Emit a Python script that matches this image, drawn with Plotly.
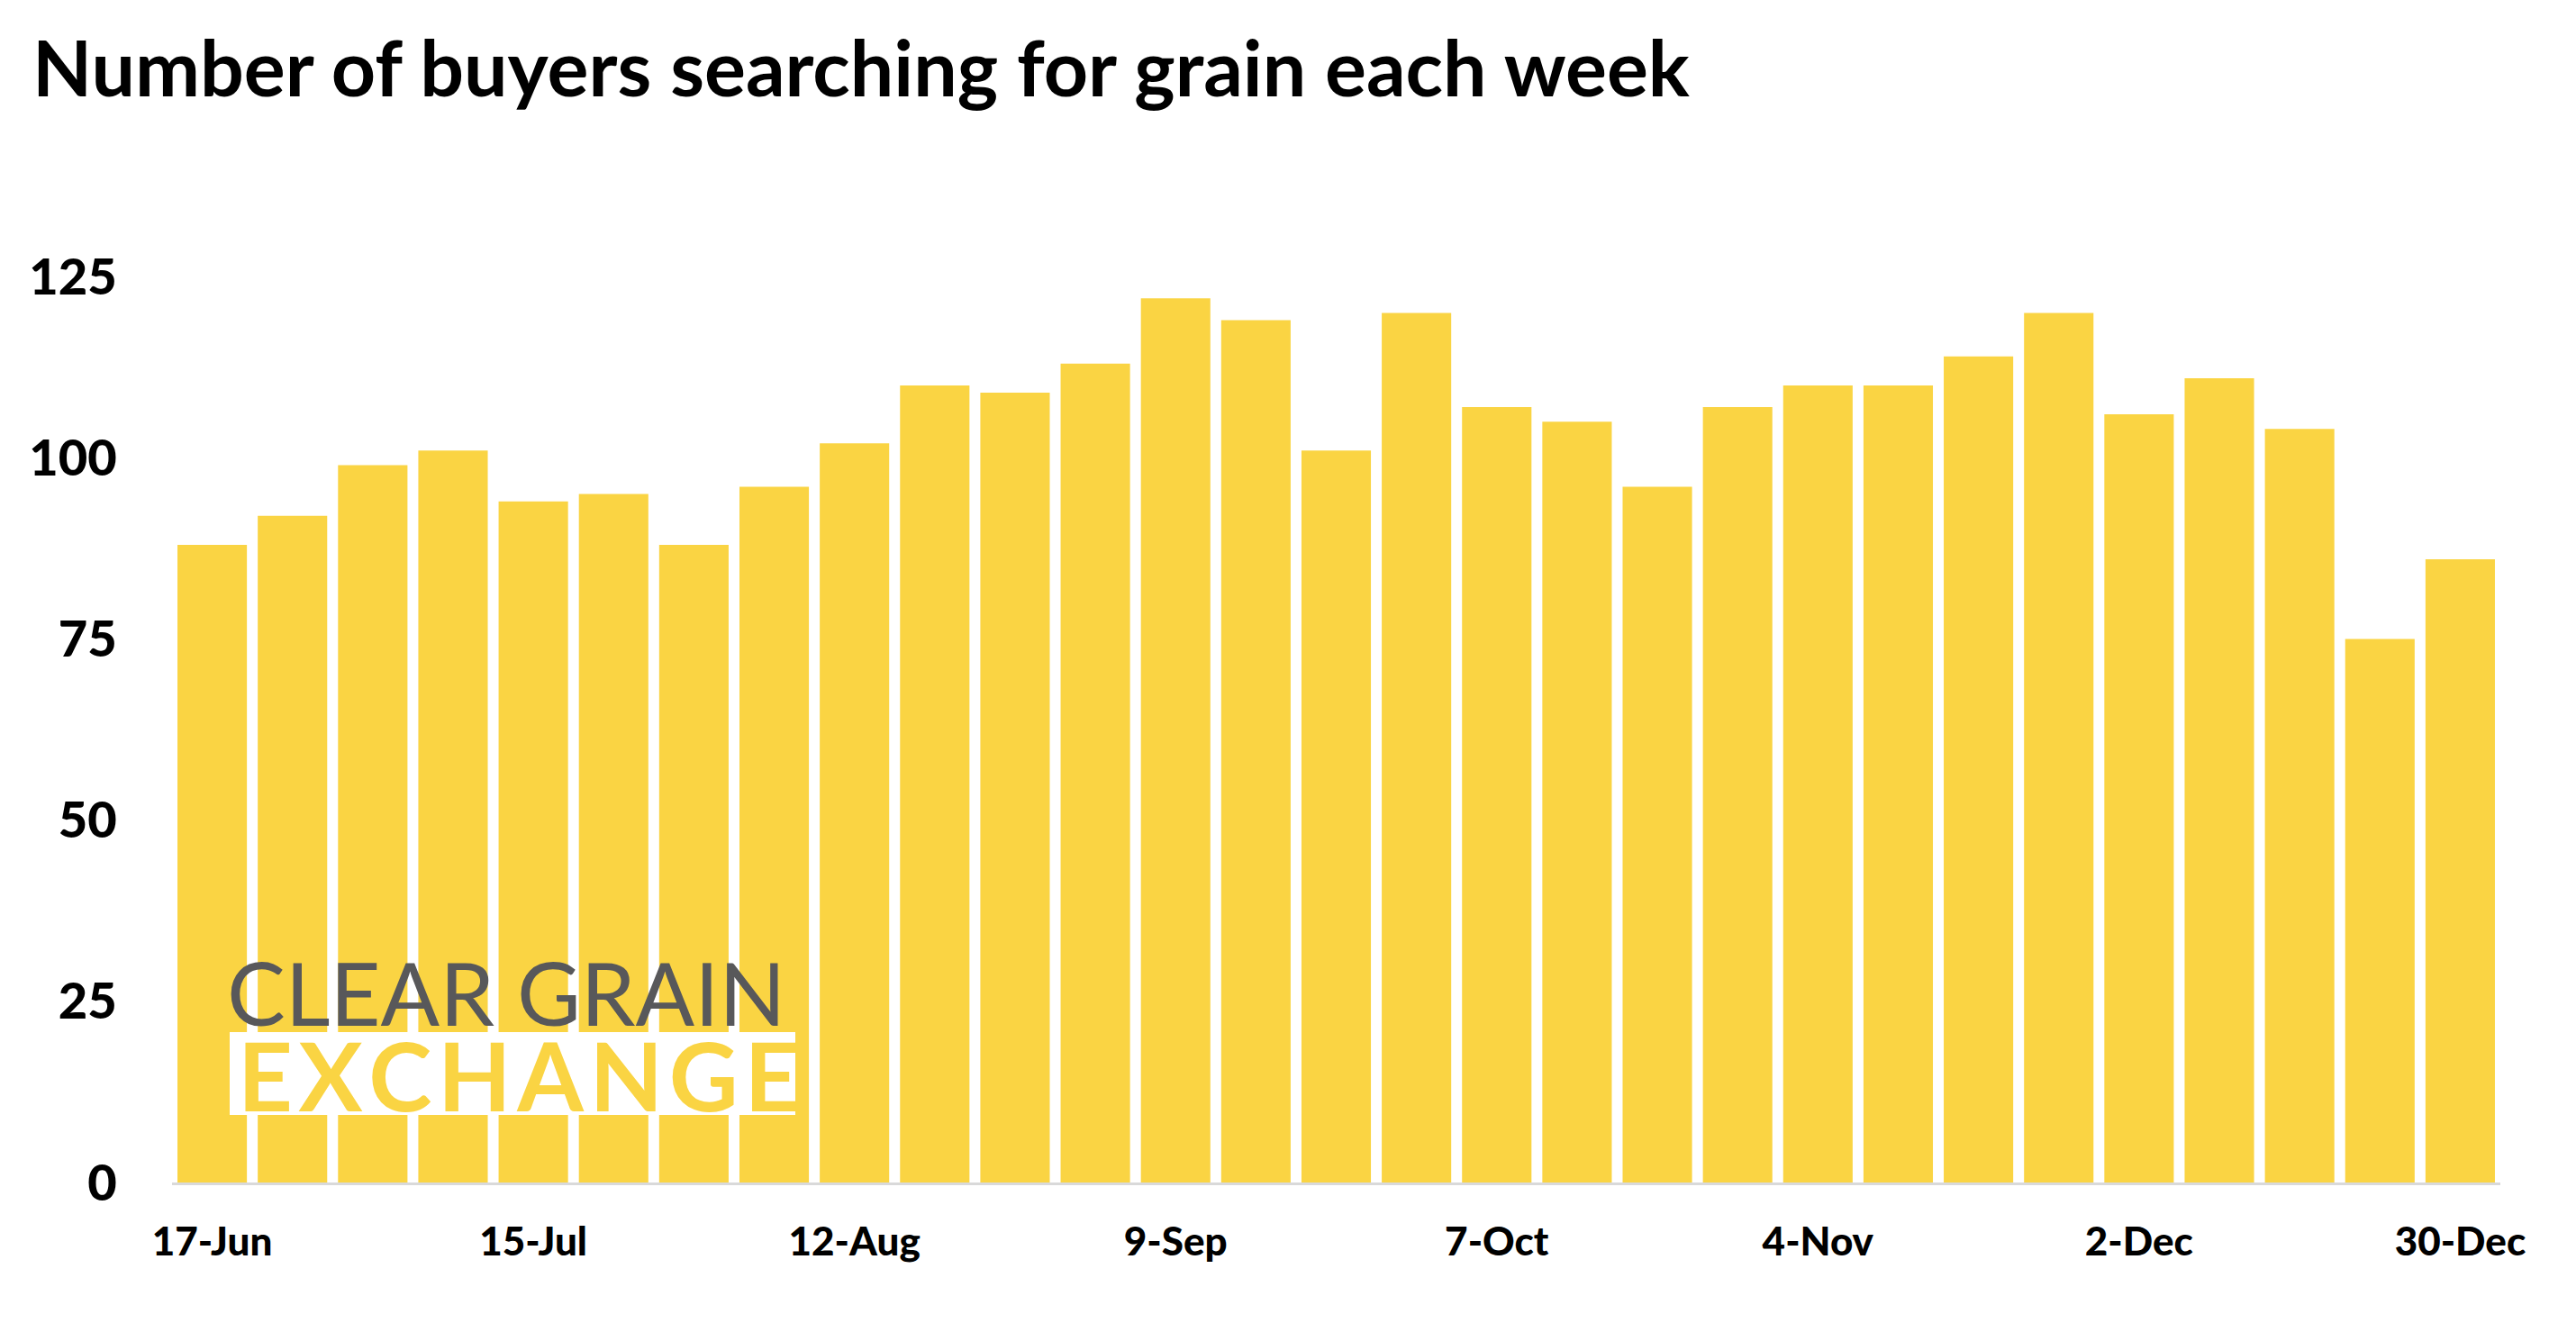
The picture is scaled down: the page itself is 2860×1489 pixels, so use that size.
import plotly.graph_objects as go

weeks = ["17-Jun", "24-Jun", "1-Jul", "8-Jul", "15-Jul", "22-Jul", "29-Jul", "5-Aug",
         "12-Aug", "19-Aug", "26-Aug", "2-Sep", "9-Sep", "16-Sep", "23-Sep", "30-Sep",
         "7-Oct", "14-Oct", "21-Oct", "28-Oct", "4-Nov", "11-Nov", "18-Nov", "25-Nov",
         "2-Dec", "9-Dec", "16-Dec", "23-Dec", "30-Dec"]
buyers = [88, 92, 99, 101, 94, 95, 88, 96, 102, 110, 109, 113, 122, 119, 101, 120,
          107, 105, 96, 107, 110, 110, 114, 120, 106, 111, 104, 75, 86]
tick_labels = ["17-Jun", "15-Jul", "12-Aug", "9-Sep", "7-Oct", "4-Nov", "2-Dec", "30-Dec"]
y_ticks = [0, 25, 50, 75, 100, 125]

# page body has an 8px margin; figure sized to fit inside the window
OFF = 8
W, H = 2860 - 2 * OFF, 1489 - 2 * OFF
# desired on-screen plot area: left 191, right 2776, top 267, bottom 1313
ML = 191 - OFF
MR = W - (2776 - OFF)
MT = 267 - OFF
MB = H - (1313 - OFF)

BAR = "#FAD443"

fig = go.Figure(go.Bar(x=weeks, y=buyers, marker=dict(color=BAR, line=dict(width=0)),
                       hoverinfo="x+y"))

def px_x(p):  # screen px -> paper
    return (p - OFF - ML) / (W - ML - MR)

def px_y(p):
    return (H - MB - (p - OFF)) / (H - MT - MB)

fig.update_layout(
    width=W, height=H,
    margin=dict(l=ML, r=MR, t=MT, b=MB, pad=0),
    paper_bgcolor="white", plot_bgcolor="white",
    bargap=0.135,
    showlegend=False,
    title=dict(text="<b>Number of buyers searching for grain each week</b>",
               x=(36 - OFF) / W, xanchor="left", xref="container",
               y=1 - (77 - OFF) / H, yanchor="middle", yref="container",
               font=dict(family="Lato", size=86, color="black", weight=900)),
    xaxis=dict(type="category", tickmode="array", tickvals=tick_labels, ticktext=tick_labels,
               showgrid=False, zeroline=False, showline=True, linecolor="#d9d9d9", linewidth=3,
               ticks="outside", ticklen=25, tickcolor="rgba(0,0,0,0)",
               tickfont=dict(family="Lato", size=44, color="black", weight=900),
               fixedrange=True),
    yaxis=dict(range=[0, 130], tickmode="array", tickvals=y_ticks,
               showgrid=False, zeroline=False, showline=False,
               ticks="outside", ticklen=49, tickcolor="rgba(0,0,0,0)",
               tickfont=dict(family="Lato", size=56, color="black", weight=900),
               fixedrange=True),
)

# logo: white band behind "EXCHANGE"
fig.add_shape(type="rect", xref="paper", yref="paper", layer="above",
              x0=px_x(255), x1=px_x(883), y0=px_y(1238), y1=px_y(1146),
              fillcolor="white", line=dict(width=0))
fig.add_annotation(text="CLEAR GRAIN", xref="paper", yref="paper",
                   x=px_x(250), y=px_y(1101), xanchor="left", yanchor="middle",
                   showarrow=False,
                   font=dict(family="Lato", size=97, color="#58585a", weight=400))
fig.add_annotation(text="E\u200aX\u200aC\u200aH\u200aA\u200aN\u200aG\u200aE", xref="paper", yref="paper",
                   x=px_x(262), y=px_y(1193), xanchor="left", yanchor="middle",
                   showarrow=False,
                   font=dict(family="Lato", size=106, color=BAR, weight="bold"))

fig.write_html("out.html")
